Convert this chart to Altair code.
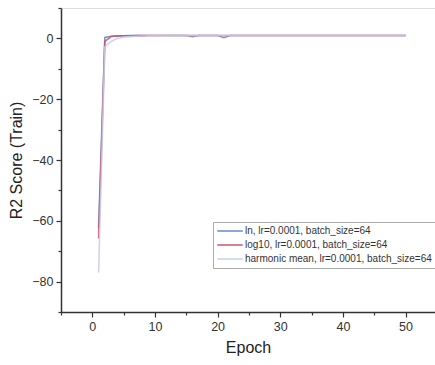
import altair as alt
import pandas as pd

epochs = list(range(1, 51))
ln_vals = [-62.5, 0.3, 0.7, 0.82, 0.87, 0.9, 0.91, 0.92, 0.93, 0.93,
           0.94, 0.94, 0.94, 0.95, 0.95, 0.55, 0.95, 0.95, 0.96, 0.96,
           0.25, 0.95, 0.96, 0.96, 0.96, 0.96, 0.96, 0.97, 0.97, 0.97,
           0.97, 0.97, 0.97, 0.97, 0.97, 0.97, 0.97, 0.97, 0.97, 0.97,
           0.97, 0.97, 0.97, 0.97, 0.97, 0.97, 0.97, 0.97, 0.97, 0.97]
log10_vals = [-65.8, -1.0, 0.6, 0.8, 0.86, 0.89, 0.91, 0.92, 0.93, 0.93,
              0.94, 0.94, 0.94, 0.95, 0.95, 0.95, 0.95, 0.95, 0.96, 0.96,
              0.96, 0.96, 0.96, 0.96, 0.96, 0.96, 0.96, 0.97, 0.97, 0.97,
              0.97, 0.97, 0.97, 0.97, 0.97, 0.97, 0.97, 0.97, 0.97, 0.97,
              0.97, 0.97, 0.97, 0.97, 0.97, 0.97, 0.97, 0.97, 0.97, 0.97]
harm_vals = [-77.0, -2.8, -1.0, 0.0, 0.4, 0.6, 0.7, 0.78, 0.83, 0.86,
             0.88, 0.9, 0.91, 0.92, 0.93, 0.93, 0.94, 0.94, 0.95, 0.95,
             0.95, 0.95, 0.96, 0.96, 0.96, 0.96, 0.96, 0.96, 0.97, 0.97,
             0.97, 0.97, 0.97, 0.97, 0.97, 0.97, 0.97, 0.97, 0.97, 0.97,
             0.97, 0.97, 0.97, 0.97, 0.97, 0.97, 0.97, 0.97, 0.97, 0.97]

series_names = ["ln, lr=0.0001, batch_size=64",
                "log10, lr=0.0001, batch_size=64",
                "harmonic mean, lr=0.0001, batch_size=64"]
series_colors = ["#5f86c4", "#c4536a", "#c9cbe6"]
draw_order = [1, 2, 0]

x_major = [0, 10, 20, 30, 40, 50]
x_minor = [-5, 5, 15, 25, 35, 45]
y_major = [-80, -60, -40, -20, 0]
y_minor = [-90, -70, -50, -30, -10, 10]

rows = []
for name, vals, order in zip(series_names, [ln_vals, log10_vals, harm_vals], draw_order):
    for e, v in zip(epochs, vals):
        rows.append({"Epoch": e, "R2": v, "series": name, "order": order})
df = pd.DataFrame(rows)

FONT = "Liberation Sans"
xdom = [-5, 54.7]
ydom = [-90, 10]

xscale = alt.Scale(domain=xdom, nice=False, zero=False)
yscale = alt.Scale(domain=ydom, nice=False, zero=False)

axis_common = dict(domainColor="#333333", domainWidth=1.5, tickColor="#333333",
                   tickWidth=1.2, grid=False, labelFont=FONT, titleFont=FONT,
                   labelColor="#333333", titleColor="#222222", labelFontSize=12.5,
                   titleFontSize=16, titleFontWeight="normal")

lines = alt.Chart(df).mark_line(strokeWidth=1.6, opacity=0.85).encode(
    x=alt.X("Epoch:Q", scale=xscale,
            axis=alt.Axis(values=x_major, tickSize=5, orient="bottom", title="Epoch",
                          labelPadding=3, titlePadding=7, **axis_common)),
    y=alt.Y("R2:Q", scale=yscale,
            axis=alt.Axis(values=y_major, tickSize=5, orient="left", title="R2 Score (Train)",
                          labelPadding=3, titlePadding=7, **axis_common)),
    color=alt.Color("series:N",
                    scale=alt.Scale(domain=series_names, range=series_colors),
                    sort=series_names,
                    legend=alt.Legend(title=None, orient="none", legendX=152, legendY=214,
                                      symbolType="stroke", symbolSize=650,
                                      symbolStrokeWidth=1.6, labelFont=FONT,
                                      labelFontSize=10, labelColor="#333333",
                                      strokeColor="#aaaaaa", fillColor="white",
                                      padding=3, rowPadding=2, labelOffset=1,
                                      clipHeight=12,
                                      labelLimit=400, symbolOpacity=0.9)),
    order=alt.Order("order:Q"),
)

minor_df = pd.DataFrame({"mx": [0], "my": [0]})
minor = alt.Chart(minor_df).mark_point(opacity=0).encode(
    x=alt.X("mx:Q", scale=xscale,
            axis=alt.Axis(values=x_minor, tickSize=3, orient="bottom", labels=False,
                          title=None, domain=False, tickColor="#333333", tickWidth=1.2,
                          grid=False)),
    y=alt.Y("my:Q", scale=yscale,
            axis=alt.Axis(values=y_minor, tickSize=3, orient="left", labels=False,
                          title=None, domain=False, tickColor="#333333", tickWidth=1.2,
                          grid=False)),
)

chart = alt.layer(lines, minor).resolve_axis(x="independent", y="independent").properties(
    width=374, height=304,
    padding={"left": 61, "top": 8, "right": 0, "bottom": 53},
    autosize=alt.AutoSizeParams(type="none"),
).configure_view(stroke=None).configure(background="white")

chart.save("out.html", embed_options={"renderer": "svg", "actions": False})
